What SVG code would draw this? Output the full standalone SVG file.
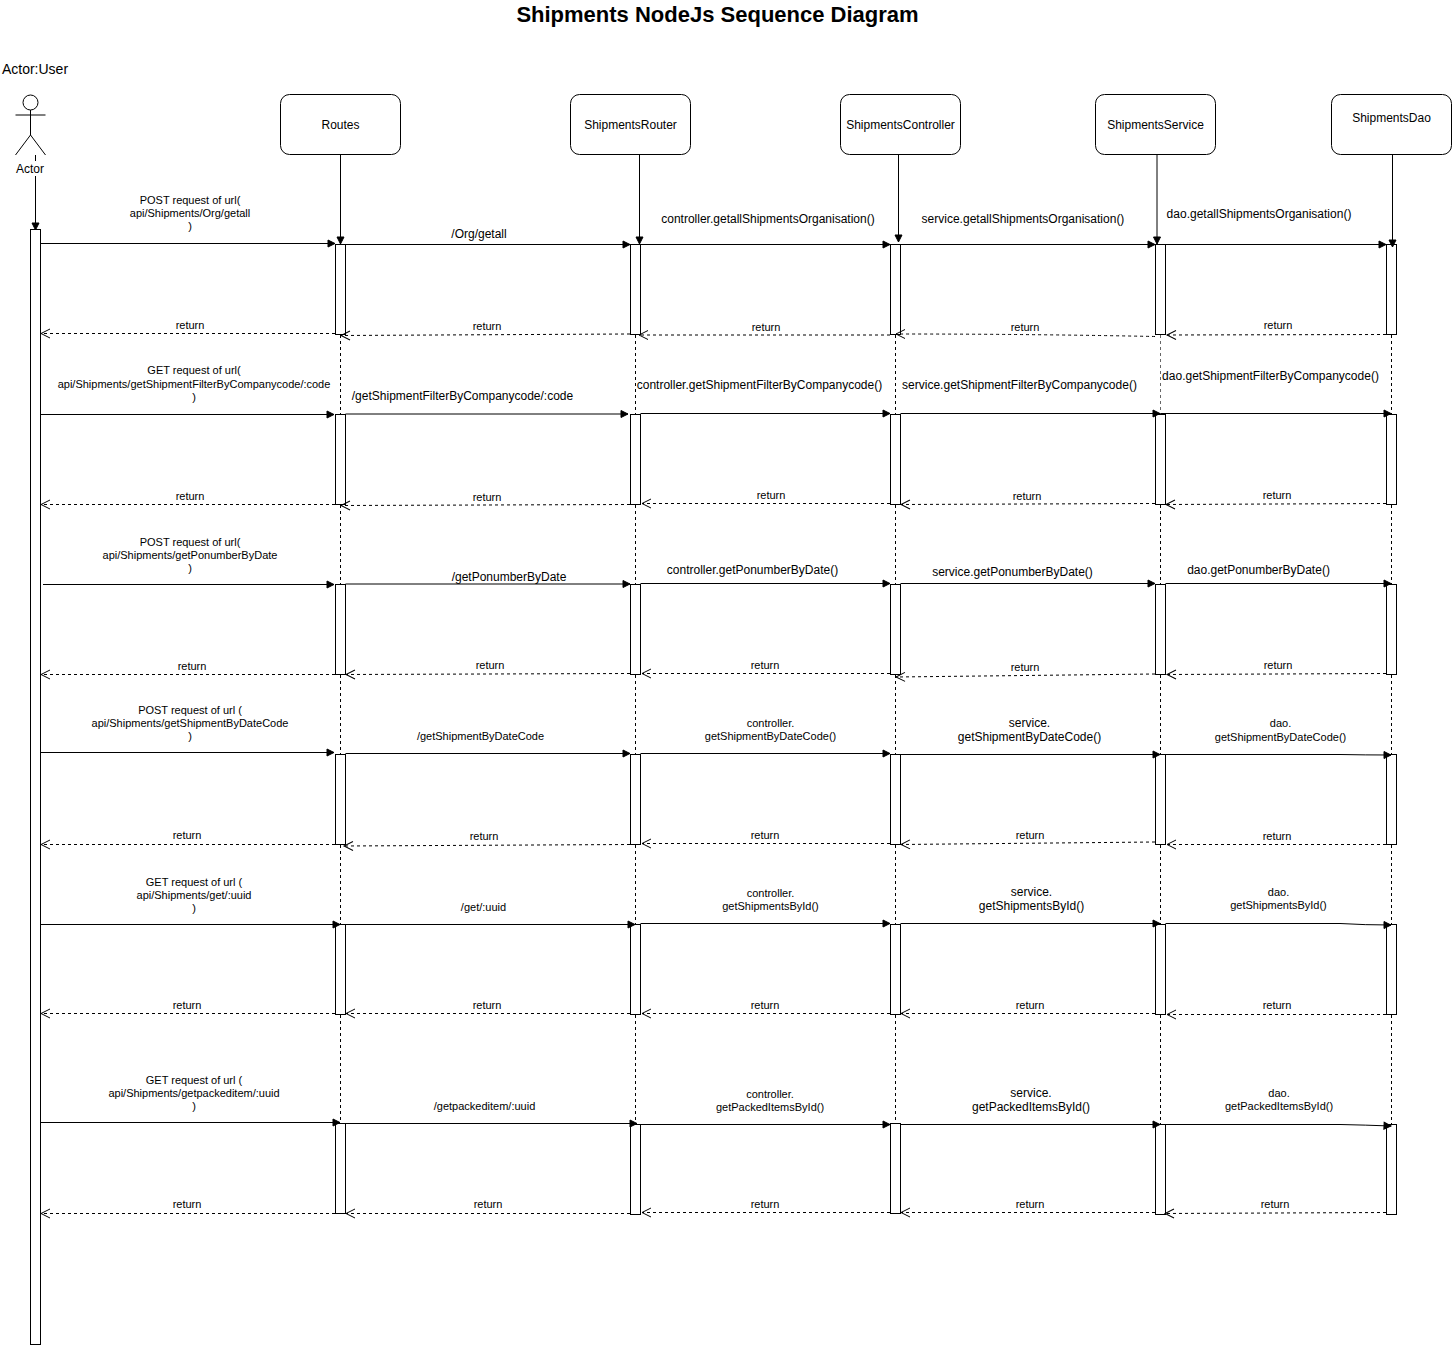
<svg xmlns="http://www.w3.org/2000/svg" width="1453" height="1345" viewBox="0 0 1453 1345">
<style>
text{font-family:"Liberation Sans",Arial,sans-serif;fill:#000;text-anchor:middle}
.s{font-size:11px}.m{font-size:12px}.t{font-size:22px;font-weight:bold}
.b{fill:#fff;stroke:#000;stroke-width:1}
.a{fill:none;stroke:#000;stroke-width:1;marker-end:url(#blk)}
.r{fill:none;stroke:#000;stroke-width:1;stroke-dasharray:3 3;marker-end:url(#opn)}
.l{fill:none;stroke:#000;stroke-width:1;stroke-dasharray:3 3}
</style>
<defs>
<marker id="blk" markerUnits="userSpaceOnUse" markerWidth="10" markerHeight="10" refX="8" refY="5" orient="auto" overflow="visible"><path d="M1,1.500L8,5L1,8.500Z" fill="#000" stroke="#000"/></marker>
<marker id="opn" markerUnits="userSpaceOnUse" markerWidth="12" markerHeight="12" refX="10" refY="5" orient="auto" overflow="visible"><path d="M1,0.500L10,5L1,9.500" fill="none" stroke="#000" stroke-dasharray="none"/></marker>
</defs>
<rect width="1453" height="1345" fill="#fff"/>
<text class="t" x="717.500" y="22">Shipments NodeJs Sequence Diagram</text>
<text x="35" y="74" font-size="14">Actor:User</text>

<g id="activations">
<rect class="b" x="30.500" y="229.500" width="10" height="1115"/>
<rect class="b" x="335.500" y="244.500" width="10" height="90"/><rect class="b" x="630.500" y="244.500" width="10" height="90"/><rect class="b" x="890.500" y="244.500" width="10" height="90"/><rect class="b" x="1155.500" y="244.500" width="10" height="90"/><rect class="b" x="1386.500" y="244.500" width="10" height="90"/>
<rect class="b" x="335.500" y="414.500" width="10" height="90"/><rect class="b" x="630.500" y="414.500" width="10" height="90"/><rect class="b" x="890.500" y="414.500" width="10" height="90"/><rect class="b" x="1155.500" y="414.500" width="10" height="90"/><rect class="b" x="1386.500" y="414.500" width="10" height="90"/>
<rect class="b" x="335.500" y="584.500" width="10" height="90"/><rect class="b" x="630.500" y="584.500" width="10" height="90"/><rect class="b" x="890.500" y="584.500" width="10" height="90"/><rect class="b" x="1155.500" y="584.500" width="10" height="90"/><rect class="b" x="1386.500" y="584.500" width="10" height="90"/>
<rect class="b" x="335.500" y="754.500" width="10" height="90"/><rect class="b" x="630.500" y="754.500" width="10" height="90"/><rect class="b" x="890.500" y="754.500" width="10" height="90"/><rect class="b" x="1155.500" y="754.500" width="10" height="90"/><rect class="b" x="1386.500" y="754.500" width="10" height="90"/>
<rect class="b" x="335.500" y="924.500" width="10" height="90"/><rect class="b" x="630.500" y="924.500" width="10" height="90"/><rect class="b" x="890.500" y="924.500" width="10" height="90"/><rect class="b" x="1155.500" y="924.500" width="10" height="90"/><rect class="b" x="1386.500" y="924.500" width="10" height="90"/>
<rect class="b" x="335.500" y="1123.500" width="10" height="90"/><rect class="b" x="630.500" y="1124.500" width="10" height="90"/><rect class="b" x="890.500" y="1123.500" width="10" height="90"/><rect class="b" x="1155.500" y="1124.500" width="10" height="90"/><rect class="b" x="1386.500" y="1124.500" width="10" height="90"/>
</g>

<g id="connectors">
<path class="a" d="M35.500 155V230"/><path class="a" d="M340.500 155V244"/><path class="a" d="M639.500 155V244"/><path class="a" d="M898.500 155V242"/><path class="a" d="M1157 155V244"/><path class="a" d="M1392.500 155V247"/>
<path class="l" d="M340.500 335V414M340.500 505V584M340.500 675V754M340.500 845V924M340.500 1015V1123"/>
<path class="l" d="M635.500 335V414M635.500 505V584M635.500 675V754M635.500 845V924M635.500 1015V1124"/>
<path class="l" d="M895.500 335V414M895.500 505V584M895.500 675V754M895.500 845V924M895.500 1015V1123"/>
<path class="l" d="M1160.500 335V414" stroke-opacity="0.6"/>
<path class="l" d="M1160.500 505V584M1160.500 675V754M1160.500 845V924M1160.500 1015V1124"/>
<path class="l" d="M1391.500 335V414M1391.500 505V584M1391.500 675V754M1391.500 845V924M1391.500 1015V1124"/>

<path class="a" d="M40 243.500H335"/><path class="a" d="M345.500 244.500H630"/><path class="a" d="M640.500 244.500H890"/><path class="a" d="M900.500 244.500H1155"/><path class="a" d="M1165.500 244.500H1386"/>
<path class="r" d="M335 333.500H41"/><path class="r" d="M630 334L341 335.500"/><path class="r" d="M890 335H639"/><path class="r" d="M1155 336.500Q1030 334 896 334"/><path class="r" d="M1386 334.500L1167 335"/>

<path class="a" d="M40 414.500H334"/><path class="a" d="M345.500 414H628"/><path class="a" d="M640.500 413.500H890"/><path class="a" d="M900.500 413.500H1160"/><path class="a" d="M1160.500 413.500H1391"/>
<path class="r" d="M335 504.500H41"/><path class="r" d="M630 504.500L341 505.500"/><path class="r" d="M890 503.500H642"/><path class="r" d="M1155 503.500L901 504.500"/><path class="r" d="M1386 503.500L1166 504.500"/>

<path class="a" d="M43 584.500H334"/><path class="a" d="M345.500 584H630"/><path class="a" d="M640.500 583.500H890"/><path class="a" d="M900.500 583.500H1155"/><path class="a" d="M1165.500 583.500H1391"/>
<path class="r" d="M335 674.500H41"/><path class="r" d="M630 673.500L346 674.500"/><path class="r" d="M890 673.500H642"/><path class="r" d="M1155 674L896 677"/><path class="r" d="M1386 673.500L1167 674.500"/>

<path class="a" d="M40 752.500H334"/><path class="a" d="M345.500 753.500H630"/><path class="a" d="M640.500 753.500H890"/><path class="a" d="M900.500 754.500H1160"/><path class="a" d="M1165.500 754.500H1340Q1365 755 1391 755"/>
<path class="r" d="M335 844.500H41"/><path class="r" d="M630 844.500L344 846"/><path class="r" d="M890 843.500H642"/><path class="r" d="M1155 842L901 844.500"/><path class="r" d="M1386 844.500H1167"/>

<path class="a" d="M40 924.500H340"/><path class="a" d="M345.500 924.500H635"/><path class="a" d="M640.500 923.500H890"/><path class="a" d="M900.500 923.500H1160"/><path class="a" d="M1165.500 923.500H1340Q1365 925 1391 925"/>
<path class="r" d="M335 1013.500H41"/><path class="r" d="M630 1013.500H346"/><path class="r" d="M890 1013.500H642"/><path class="r" d="M1155 1013.500H901"/><path class="r" d="M1386 1014.500H1167"/>

<path class="a" d="M40 1122.500H340"/><path class="a" d="M345.500 1123.500H637"/><path class="a" d="M640.500 1124.500H890"/><path class="a" d="M900.500 1124.500H1160"/><path class="a" d="M1165.500 1124.500H1340Q1365 1125 1391 1126"/>
<path class="r" d="M335 1213.500H41"/><path class="r" d="M630 1213.500H346"/><path class="r" d="M890 1212.500H642"/><path class="r" d="M1155 1212.500H901"/><path class="r" d="M1386 1212.500L1165 1213.500"/>
</g>

<g id="actor">
<circle class="b" cx="30.500" cy="102.500" r="7.500"/>
<path fill="none" stroke="#000" d="M30.500 110V135M15.500 115H45.500M30.500 135L15.500 155M30.500 135L45.500 155"/>
<rect x="15" y="161" width="31" height="15" fill="#fff"/>
<text class="m" x="30" y="173">Actor</text>
</g>
<g id="routes"><rect class="b" x="280.500" y="94.500" width="120" height="60" rx="9"/><text class="m" x="340.500" y="129">Routes</text></g>
<g id="shipments-router"><rect class="b" x="570.500" y="94.500" width="120" height="60" rx="9"/><text class="m" x="630.500" y="129">ShipmentsRouter</text></g>
<g id="shipments-controller"><rect class="b" x="840.500" y="94.500" width="120" height="60" rx="9"/><text class="m" x="900.500" y="129">ShipmentsController</text></g>
<g id="shipments-service"><rect class="b" x="1095.500" y="94.500" width="120" height="60" rx="9"/><text class="m" x="1155.500" y="129">ShipmentsService</text></g>
<g id="shipments-dao"><rect class="b" x="1331.500" y="94.500" width="120" height="60" rx="9"/><text class="m" x="1391.500" y="122">ShipmentsDao</text></g>

<g id="labels">
<text class="s" x="190" y="204">POST request of url(</text><text class="s" x="190" y="217">api/Shipments/Org/getall</text><text class="s" x="190" y="230">)</text>
<text class="m" x="479" y="238">/Org/getall</text><text class="m" x="768" y="223">controller.getallShipmentsOrganisation()</text><text class="m" x="1023" y="223">service.getallShipmentsOrganisation()</text><text class="m" x="1259" y="218">dao.getallShipmentsOrganisation()</text>
<text class="s" x="190" y="329">return</text><text class="s" x="487" y="330">return</text><text class="s" x="766" y="331">return</text><text class="s" x="1025" y="331">return</text><text class="s" x="1278" y="329">return</text>

<text class="s" x="194" y="374">GET request of url(</text><text class="s" x="194" y="388">api/Shipments/getShipmentFilterByCompanycode/:code</text><text class="s" x="194" y="401">)</text>
<text class="m" x="462.500" y="400">/getShipmentFilterByCompanycode/:code</text><text class="m" x="759.500" y="389">controller.getShipmentFilterByCompanycode()</text><text class="m" x="1019.500" y="389">service.getShipmentFilterByCompanycode()</text><text class="m" x="1270.500" y="380">dao.getShipmentFilterByCompanycode()</text>
<text class="s" x="190" y="500">return</text><text class="s" x="487" y="501">return</text><text class="s" x="771" y="499">return</text><text class="s" x="1027" y="500">return</text><text class="s" x="1277" y="499">return</text>

<text class="s" x="190" y="546">POST request of url(</text><text class="s" x="190" y="559">api/Shipments/getPonumberByDate</text><text class="s" x="190" y="572">)</text>
<text class="m" x="509" y="581">/getPonumberByDate</text><text class="m" x="752.500" y="574">controller.getPonumberByDate()</text><text class="m" x="1012.500" y="576">service.getPonumberByDate()</text><text class="m" x="1258.500" y="574">dao.getPonumberByDate()</text>
<text class="s" x="192" y="670">return</text><text class="s" x="490" y="669">return</text><text class="s" x="765" y="669">return</text><text class="s" x="1025" y="671">return</text><text class="s" x="1278" y="669">return</text>

<text class="s" x="190" y="714">POST request of url (</text><text class="s" x="190" y="727">api/Shipments/getShipmentByDateCode</text><text class="s" x="190" y="740">)</text>
<text class="s" x="480.500" y="740">/getShipmentByDateCode</text><text class="s" x="770.500" y="727">controller.</text><text class="s" x="770.500" y="740">getShipmentByDateCode()</text><text class="m" x="1029.500" y="727">service.</text><text class="m" x="1029.500" y="741">getShipmentByDateCode()</text><text class="s" x="1280.500" y="727">dao.</text><text class="s" x="1280.500" y="741">getShipmentByDateCode()</text>
<text class="s" x="187" y="839">return</text><text class="s" x="484" y="840">return</text><text class="s" x="765" y="839">return</text><text class="s" x="1030" y="839">return</text><text class="s" x="1277" y="840">return</text>

<text class="s" x="194" y="886">GET request of url (</text><text class="s" x="194" y="899">api/Shipments/get/:uuid</text><text class="s" x="194" y="912">)</text>
<text class="s" x="483.500" y="911">/get/:uuid</text><text class="s" x="770.500" y="897">controller.</text><text class="s" x="770.500" y="910">getShipmentsById()</text><text class="m" x="1031.500" y="896">service.</text><text class="m" x="1031.500" y="910">getShipmentsById()</text><text class="s" x="1278.500" y="896">dao.</text><text class="s" x="1278.500" y="909">getShipmentsById()</text>
<text class="s" x="187" y="1009">return</text><text class="s" x="487" y="1009">return</text><text class="s" x="765" y="1009">return</text><text class="s" x="1030" y="1009">return</text><text class="s" x="1277" y="1009">return</text>

<text class="s" x="194" y="1084">GET request of url (</text><text class="s" x="194" y="1097">api/Shipments/getpackeditem/:uuid</text><text class="s" x="194" y="1110">)</text>
<text class="s" x="484.500" y="1110">/getpackeditem/:uuid</text><text class="s" x="770" y="1098">controller.</text><text class="s" x="770" y="1111">getPackedItemsById()</text><text class="m" x="1031" y="1097">service.</text><text class="m" x="1031" y="1111">getPackedItemsById()</text><text class="s" x="1279" y="1097">dao.</text><text class="s" x="1279" y="1110">getPackedItemsById()</text>
<text class="s" x="187" y="1208">return</text><text class="s" x="488" y="1208">return</text><text class="s" x="765" y="1208">return</text><text class="s" x="1030" y="1208">return</text><text class="s" x="1275" y="1208">return</text>
</g>
</svg>
